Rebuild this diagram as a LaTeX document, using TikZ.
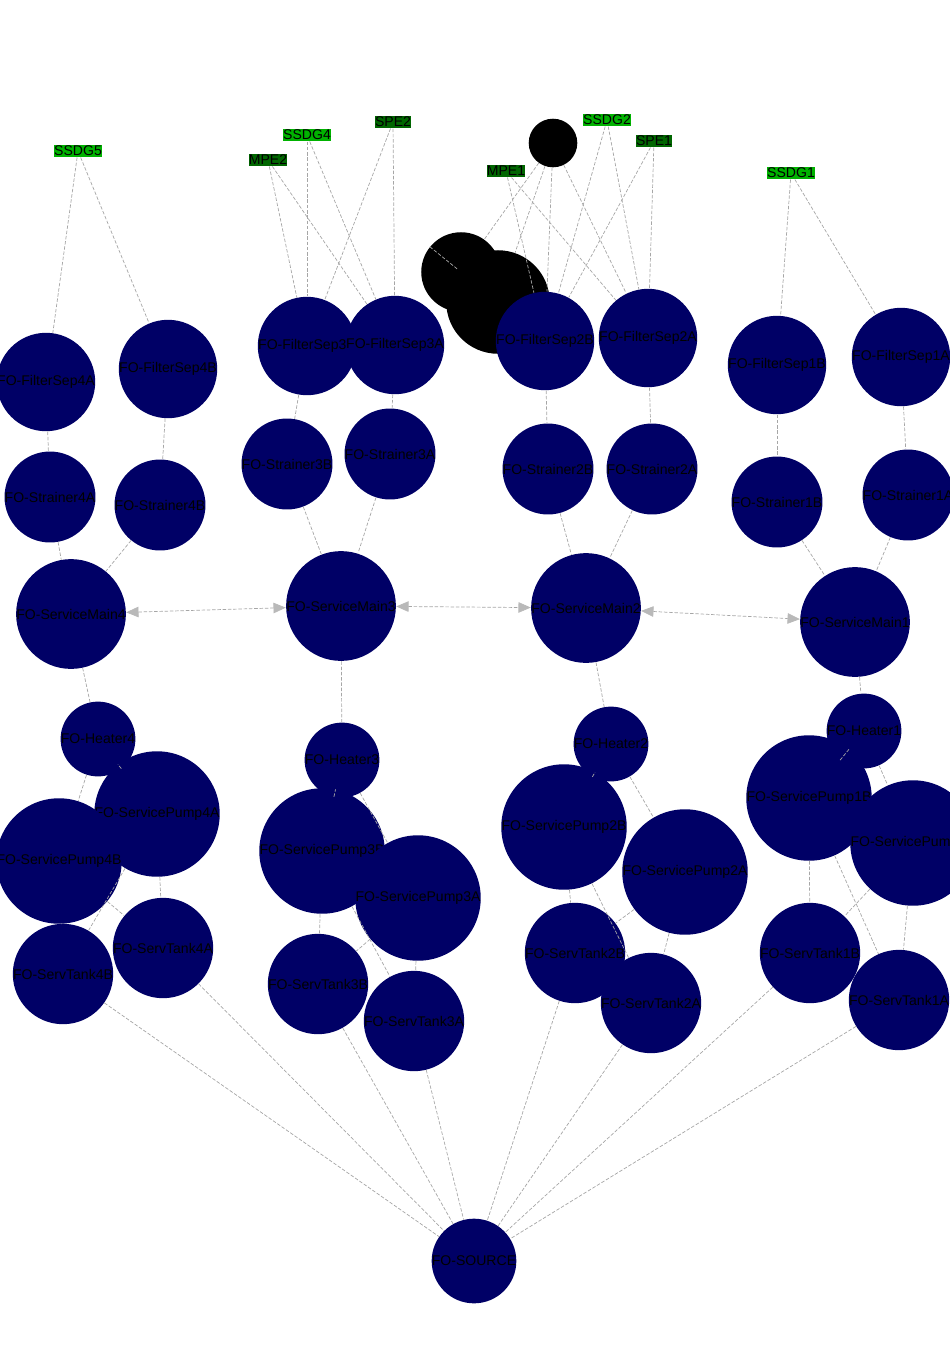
\documentclass[tikz,border=0pt]{standalone}
\usepackage{fontspec}
\setmainfont{Liberation Sans}
\usetikzlibrary{arrows.meta}

\begin{document}
\begin{tikzpicture}[
    x=0.02cm, y=-0.02cm,
    font=\fontsize{8}{9}\selectfont,
    fo/.style={circle, fill=blue!40!black, inner sep=0pt, minimum size=7pt,
        label={[text=blue!40!black, label distance=-1pt]below:#1}},
    ext/.style={circle, fill=black, inner sep=0pt, minimum size=7pt,
        label={[text=black, label distance=-1pt]below:#1}},
    gen/.style={rectangle, fill=green!70!black, inner sep=0pt, minimum size=7pt,
        label={[text=green!70!black, label distance=-1pt]below:#1}},
    prime/.style={rectangle, fill=green!40!black, inner sep=0pt, minimum size=7pt,
        label={[text=green!40!black, label distance=-1pt]below:#1}},
    link/.style={draw=gray!70, dashed, dash pattern=on 2pt off 1pt, thin},
    main/.style={link, {Triangle[length=7pt,width=6pt,color=gray!55]}-{Triangle[length=7pt,width=6pt,color=gray!55]}}
]
\useasboundingbox (0,0) rectangle (950,1367);

% ===== Sources on top =====
\node[gen]   (ssdg5) at (78,151) {SSDG5};
\node[gen]   (ssdg4) at (307,135) {SSDG4};
\node[prime] (spe2)  at (393,122) {SPE2};
\node[prime] (mpe2)  at (268,160) {MPE2};
\node[ext]   (ssdg3) at (553,143) {SSDG3};
\node[gen]   (ssdg2) at (607,120) {SSDG2};
\node[prime] (spe1)  at (654,141) {SPE1};
\node[prime] (mpe1)  at (506,171) {MPE1};
\node[gen]   (ssdg1) at (791,173) {SSDG1};
\node[ext]   (inlet) at (461,272) {SSDG3-Inlet};
\node[ext]   (exhaust) at (498,302) {SSDG3-Exhaust};

% ===== Filters =====
\node[fo] (fs4a) at (46,382) {FO-FilterSep4A};
\node[fo] (fs4b) at (168,369) {FO-FilterSep4B};
\node[fo] (fs3b) at (307,346) {FO-FilterSep3B};
\node[fo] (fs3a) at (395,345) {FO-FilterSep3A};
\node[fo] (fs2b) at (545,341) {FO-FilterSep2B};
\node[fo] (fs2a) at (648,338) {FO-FilterSep2A};
\node[fo] (fs1b) at (777,365) {FO-FilterSep1B};
\node[fo] (fs1a) at (901,357) {FO-FilterSep1A};

% ===== Strainers =====
\node[fo] (st4a) at (50,497) {FO-Strainer4A};
\node[fo] (st4b) at (160,505) {FO-Strainer4B};
\node[fo] (st3b) at (287,464) {FO-Strainer3B};
\node[fo] (st3a) at (390,454) {FO-Strainer3A};
\node[fo] (st2b) at (548,469) {FO-Strainer2B};
\node[fo] (st2a) at (652,469) {FO-Strainer2A};
\node[fo] (st1b) at (777,502) {FO-Strainer1B};
\node[fo] (st1a) at (908,495) {FO-Strainer1A};

% ===== Mains and heaters =====
\node[fo] (sm4) at (71,614) {FO-ServiceMain4};
\node[fo] (sm3) at (341,606) {FO-ServiceMain3};
\node[fo] (sm2) at (586,608) {FO-ServiceMain2};
\node[fo] (sm1) at (855,622) {FO-ServiceMain1};
\node[fo] (ht4) at (98,739) {FO-Heater4};
\node[fo] (ht3) at (342,760) {FO-Heater3};
\node[fo] (ht2) at (611,744) {FO-Heater2};
\node[fo] (ht1) at (864,731) {FO-Heater1};

% ===== Pumps and tanks =====
\node[fo] (sp4a) at (157,814) {FO-ServicePump4A};
\node[fo] (sp4b) at (59,861) {FO-ServicePump4B};
\node[fo] (sp3b) at (322,851) {FO-ServicePump3B};
\node[fo] (sp3a) at (418,898) {FO-ServicePump3A};
\node[fo] (sp2b) at (564,827) {FO-ServicePump2B};
\node[fo] (sp2a) at (685,872) {FO-ServicePump2A};
\node[fo] (sp1b) at (809,798) {FO-ServicePump1B};
\node[fo] (sp1a) at (913,843) {FO-ServicePump1A};
\node[fo] (tk4a) at (163,948) {FO-ServTank4A};
\node[fo] (tk4b) at (63,974) {FO-ServTank4B};
\node[fo] (tk3b) at (318,984) {FO-ServTank3B};
\node[fo] (tk3a) at (414,1021) {FO-ServTank3A};
\node[fo] (tk2b) at (575,953) {FO-ServTank2B};
\node[fo] (tk2a) at (651,1003) {FO-ServTank2A};
\node[fo] (tk1b) at (810,953) {FO-ServTank1B};
\node[fo] (tk1a) at (899,1000) {FO-ServTank1A};

\node[fo] (src) at (474,1261) {FO-SOURCE};

% ===== Connectors =====
\foreach \a/\b in {ssdg5/fs4a, ssdg5/fs4b,
    ssdg4/fs3b, ssdg4/fs3a, spe2/fs3b, spe2/fs3a, mpe2/fs3b, mpe2/fs3a,
    ssdg3/inlet, ssdg3/exhaust, inlet/exhaust, ssdg3/fs2b, ssdg3/fs2a,
    ssdg2/fs2b, ssdg2/fs2a, spe1/fs2b, spe1/fs2a, mpe1/fs2b, mpe1/fs2a,
    ssdg1/fs1b, ssdg1/fs1a}
    \draw[link] (\a) -- (\b);

\foreach \i in {1,2,3,4} {
    \draw[link] (fs\i a) -- (st\i a);
    \draw[link] (fs\i b) -- (st\i b);
    \draw[link] (st\i a) -- (sm\i);
    \draw[link] (st\i b) -- (sm\i);
    \draw[link] (sm\i) -- (ht\i);
    \draw[link] (ht\i) -- (sp\i a);
    \draw[link] (ht\i) -- (sp\i b);
    \draw[link] (sp\i a) -- (tk\i a);
    \draw[link] (sp\i a) -- (tk\i b);
    \draw[link] (sp\i b) -- (tk\i a);
    \draw[link] (sp\i b) -- (tk\i b);
    \draw[link] (tk\i a) -- (src);
    \draw[link] (tk\i b) -- (src);
}

\draw[main] (sm4) -- (sm3);
\draw[main] (sm3) -- (sm2);
\draw[main] (sm2) -- (sm1);

\end{tikzpicture}
\end{document}
